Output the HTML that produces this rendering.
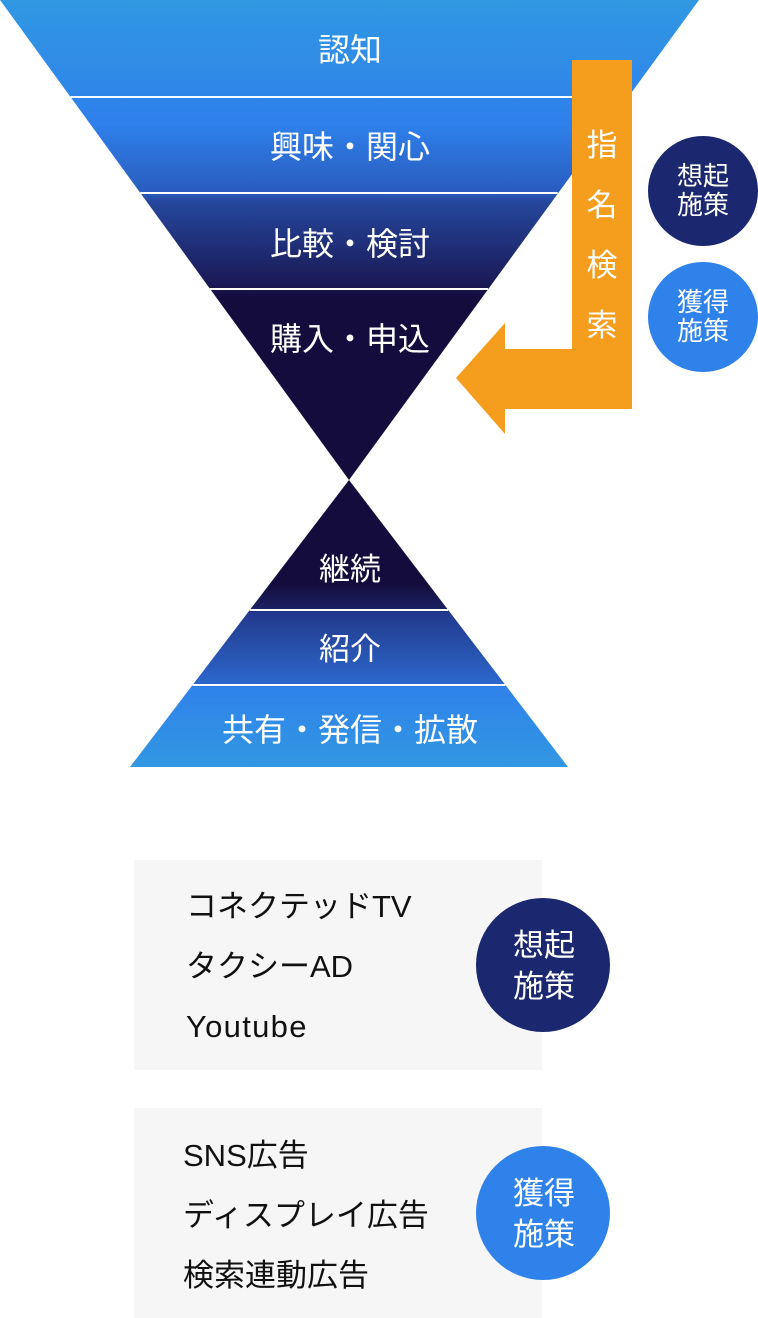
<!DOCTYPE html>
<html>
<head>
<meta charset="utf-8">
<style>
  html,body{margin:0;padding:0;background:#fff;}
  svg{display:block;}
  text{font-family:"Liberation Sans","Noto Sans CJK JP",sans-serif;}
</style>
</head>
<body>
<svg width="758" height="1318" viewBox="0 0 758 1318" xmlns="http://www.w3.org/2000/svg">
  <defs>
    <linearGradient id="gTop" x1="0" y1="0" x2="0" y2="480" gradientUnits="userSpaceOnUse">
      <stop offset="0" stop-color="#3198e2"/>
      <stop offset="0.26" stop-color="#2e80eb"/>
      <stop offset="0.40" stop-color="#2a5cbf"/>
      <stop offset="0.42" stop-color="#25479d"/>
      <stop offset="0.59" stop-color="#1b1a57"/>
      <stop offset="0.62" stop-color="#140c3c"/>
      <stop offset="1" stop-color="#140c3c"/>
    </linearGradient>
    <linearGradient id="gBot" x1="0" y1="480" x2="0" y2="768" gradientUnits="userSpaceOnUse">
      <stop offset="0" stop-color="#140c3c"/>
      <stop offset="0.36" stop-color="#140c3c"/>
      <stop offset="0.45" stop-color="#1c2263"/>
      <stop offset="0.46" stop-color="#22398c"/>
      <stop offset="0.71" stop-color="#2c68cc"/>
      <stop offset="0.72" stop-color="#2f82ea"/>
      <stop offset="1" stop-color="#3298e2"/>
    </linearGradient>
  </defs>

  <!-- top inverted triangle -->
  <polygon points="0,0 699,0 349,480" fill="url(#gTop)"/>
  <line x1="70.5" y1="97" x2="628" y2="97" stroke="#fff" stroke-width="2"/>
  <line x1="140.3" y1="193" x2="557.7" y2="193" stroke="#fff" stroke-width="2"/>
  <line x1="209.9" y1="289" x2="488.1" y2="289" stroke="#fff" stroke-width="2"/>

  <g fill="#fff" font-size="32" text-anchor="middle">
    <text x="350" y="61">認知</text>
    <text x="350" y="158">興味・関心</text>
    <text x="350" y="255">比較・検討</text>
    <text x="350" y="350">購入・申込</text>
  </g>

  <!-- bottom triangle -->
  <polygon points="349,480 568,767 130,767" fill="url(#gBot)"/>
  <line x1="249.8" y1="610" x2="448.2" y2="610" stroke="#fff" stroke-width="2"/>
  <line x1="192.6" y1="685" x2="505.4" y2="685" stroke="#fff" stroke-width="2"/>
  <g fill="#fff" font-size="31" text-anchor="middle">
    <text x="350" y="580">継続</text>
    <text x="350" y="660">紹介</text>
    <text x="350" y="741" font-size="32">共有・発信・拡散</text>
  </g>

  <!-- orange arrow -->
  <polygon points="572,60 632,60 632,409 505,409 505,434 456,378 505,323 505,349 572,349" fill="#f59d1d"/>
  <g fill="#fff" font-size="31" text-anchor="middle">
    <text x="602" y="156">指</text>
    <text x="602" y="216">名</text>
    <text x="602" y="276">検</text>
    <text x="602" y="336">索</text>
  </g>

  <!-- small circles -->
  <circle cx="703" cy="191" r="55" fill="#1b2870"/>
  <circle cx="703" cy="317" r="55" fill="#2f82ea"/>
  <g fill="#fff" font-size="26" text-anchor="middle">
    <text x="703" y="185">想起</text>
    <text x="703" y="214">施策</text>
    <text x="703" y="311">獲得</text>
    <text x="703" y="340">施策</text>
  </g>

  <!-- gray boxes -->
  <rect x="134" y="860" width="408" height="210" fill="#f6f6f6"/>
  <rect x="134" y="1108" width="408" height="210" fill="#f6f6f6"/>

  <g fill="#111" font-size="31">
    <text x="186" y="917">コネクテッドTV</text>
    <text x="186" y="977">タクシーAD</text>
    <text x="186" y="1037" letter-spacing="1.3">Youtube</text>
    <text x="183" y="1166">SNS広告</text>
    <text x="183" y="1226">ディスプレイ広告</text>
    <text x="183" y="1286">検索連動広告</text>
  </g>

  <!-- big circles -->
  <circle cx="543" cy="965" r="67" fill="#1b2870"/>
  <circle cx="543" cy="1213" r="67" fill="#2f82ea"/>
  <g fill="#fff" font-size="31" text-anchor="middle">
    <text x="544" y="956">想起</text>
    <text x="544" y="997">施策</text>
    <text x="544" y="1204">獲得</text>
    <text x="544" y="1245">施策</text>
  </g>
</svg>
</body>
</html>
